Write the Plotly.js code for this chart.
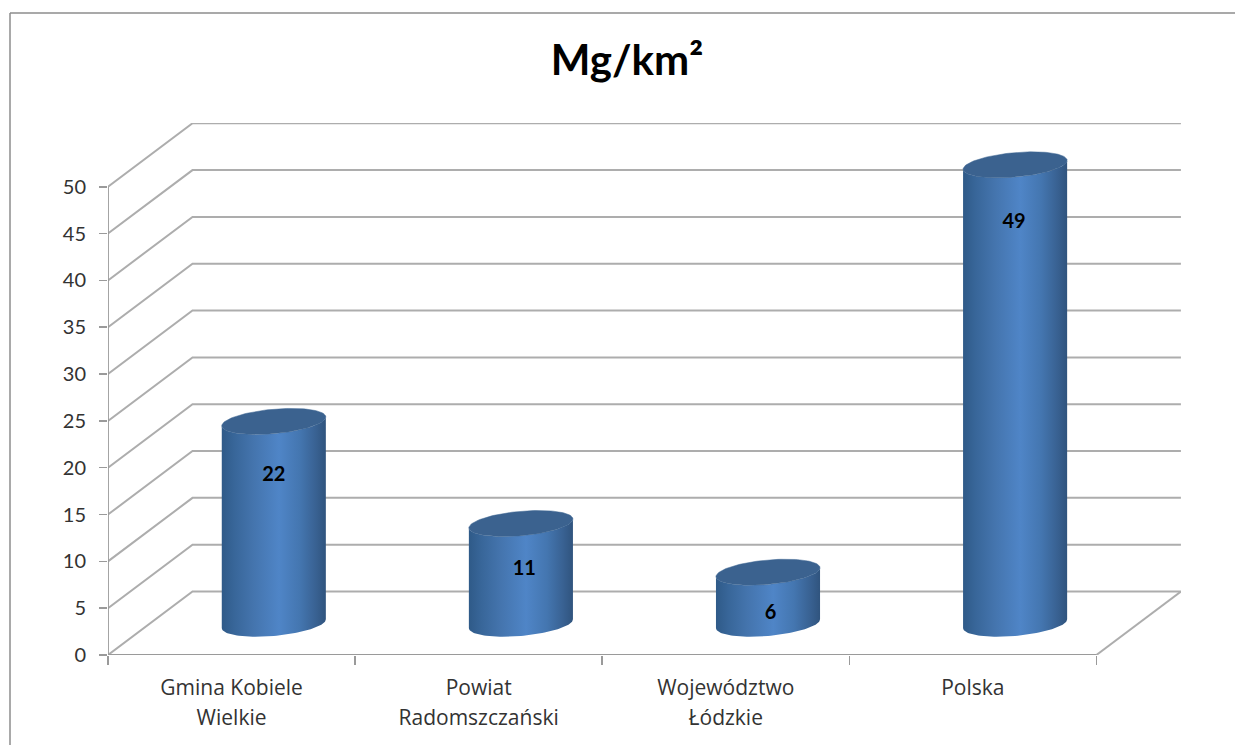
<!DOCTYPE html>
<html>
<head>
<meta charset="utf-8">
<script src="https://cdn.plot.ly/plotly-3.0.1.min.js"></script>
<style>html,body{margin:0;padding:0;background:#fff}#chart{width:1235px;height:745px}</style>
</head>
<body>
<div id="chart"></div>
<script>
// ---- data ----
const categories = ['Gmina Kobiele<br>Wielkie', 'Powiat<br>Radomszczański', 'Województwo<br>Łódzkie', 'Polska'];
const values = [21.6, 10.7, 5.5, 49.0];
const yTicks = [0, 5, 10, 15, 20, 25, 30, 35, 40, 45, 50];
const chartTitle = 'Mg/km²';

// ---- style / geometry of the pseudo-3D box (in axis units) ----
const FONT = 'Lato, "Open Sans", sans-serif';
const CATFONT = '"Open Sans", Lato, sans-serif';
const GRID = '#adadad', AXIS = '#9a9a9a';
const nCat = categories.length;
const depthX = 0.342, depthY = 6.78;   // shift of the back wall
const radX = 0.198, skewX = 0.0717, radY = 1.39;  // oblique circle
const barCx = i => i + 0.5 + depthX / 2;
const barBase = depthY / 2 - 0.05;
const labelDrop = [5.8, 5.0, 4.5, 6.2];
const labelShift = [0, 0.014, 0.01, -0.004];

const px = (i, t) => barCx(i) + radX * Math.cos(t) + skewX * Math.sin(t);
const py = (base, t) => base + radY * Math.sin(t);
const edgeT = Math.atan2(skewX, radX);   // angle of right-most silhouette point

const traces = [];
const line = (x, y, color, width) => traces.push({
  type: 'scatter', mode: 'lines', x, y, hoverinfo: 'skip', showlegend: false,
  line: {color, width, simplify: false}
});

// walls and floor
yTicks.forEach(v => line([0, depthX, nCat + depthX], [v, v + depthY, v + depthY], GRID, 2));
line([nCat, nCat + depthX], [0, depthY], GRID, 2);
line([0, 0], [0, yTicks[yTicks.length - 1]], AXIS, 1.8);
line([0, nCat], [0, 0], AXIS, 1.8);

// cylinders
values.forEach((v, i) => {
  const top = barBase + v;
  const xs = [], ys = [], tx = [], ty = [];
  const N = 60;
  // front half of the base, silhouette to silhouette (going through the bottom)
  for (let k = 0; k <= N; k++) {
    const t = edgeT - Math.PI * k / N;
    xs.push(px(i, t)); ys.push(py(barBase, t));
  }
  // back along the front half of the top
  for (let k = N; k >= 0; k--) {
    const t = edgeT - Math.PI * k / N;
    xs.push(px(i, t)); ys.push(py(top, t));
  }
  xs.push(xs[0]); ys.push(ys[0]);
  traces.push({
    type: 'scatter', mode: 'lines', x: xs, y: ys, fill: 'toself', hoverinfo: 'skip', showlegend: false,
    line: {width: 0, color: 'rgba(0,0,0,0)'},
    fillgradient: {
      type: 'horizontal',
      colorscale: [[0, '#2f5a88'], [0.12, '#386699'], [0.3, '#4474ad'], [0.55, '#4f85c7'], [0.75, '#4476b0'], [0.9, '#396293'], [1, '#30547e']]
    }
  });
  for (let k = 0; k <= 2 * N; k++) {
    const t = 2 * Math.PI * k / (2 * N);
    tx.push(px(i, t)); ty.push(py(top, t));
  }
  traces.push({
    type: 'scatter', mode: 'lines', x: tx, y: ty, fill: 'toself', fillcolor: '#3b628f',
    hoverinfo: 'skip', showlegend: false, line: {width: 0.5, color: '#3f6693'}
  });
});

// data labels
traces.push({
  type: 'scatter', mode: 'text', hoverinfo: 'skip', showlegend: false,
  x: values.map((v, i) => barCx(i) + labelShift[i]),
  y: values.map((v, i) => barBase + v - labelDrop[i]),
  text: values.map(v => String(Math.round(v))),
  textposition: 'middle center',
  textfont: {family: FONT, size: 20, color: '#000', weight: 700}
});

const L = 108, R = 54, T = 123, B = 90, W = 1235, H = 745;
const pw = W - L - R, ph = H - T - B;
const layout = {
  width: W, height: H,
  margin: {l: L, r: R, t: T, b: B, pad: 0},
  paper_bgcolor: '#fff', plot_bgcolor: 'rgba(0,0,0,0)',
  showlegend: false,
  title: {
    text: chartTitle, xref: 'container', yref: 'container',
    x: 627 / W, y: 1 - 60 / H, xanchor: 'center', yanchor: 'middle',
    font: {family: FONT, size: 42, weight: 700, color: '#000'}
  },
  xaxis: {
    range: [0, pw / 247.1], showgrid: false, zeroline: false, showline: false,
    tickmode: 'array',
    tickvals: categories.map((c, i) => i + 0.5),
    ticktext: categories.map(c => c.split('<br>').map(s => '<span style="font-size:21px">' + s + '</span>').join('<br>')),
    ticks: '', ticklen: 0,
    tickfont: {family: CATFONT, size: 23, color: '#333'},
    ticklabelstandoff: 16,
    minor: {tickmode: 'array', tickvals: [0, 1, 2, 3, 4], ticks: 'outside', ticklen: 9, tickwidth: 1.5, tickcolor: AXIS, showgrid: false}
  },
  yaxis: {
    range: [0, ph / 9.365], showgrid: false, zeroline: false, showline: false,
    tickmode: 'array', tickvals: yTicks, ticktext: yTicks.map(String),
    ticks: 'outside', ticklen: 8, tickwidth: 1.5, tickcolor: AXIS,
    tickfont: {family: FONT, size: 20, color: '#333'},
    ticklabelstandoff: 9
  },
  shapes: [
    {type: 'line', xref: 'paper', yref: 'paper', x0: (10 - L) / pw, x1: (W - L) / pw, y0: 1 + (T - 13) / ph, y1: 1 + (T - 13) / ph, line: {color: '#8c8c8c', width: 1.5}},
    {type: 'line', xref: 'paper', yref: 'paper', x0: (10 - L) / pw, x1: (10 - L) / pw, y0: 1 + (T - 13) / ph, y1: -B / ph, line: {color: '#8c8c8c', width: 1.5}}
  ]
};
Plotly.newPlot('chart', traces, layout, {displayModeBar: false, staticPlot: true});
</script>
</body>
</html>
